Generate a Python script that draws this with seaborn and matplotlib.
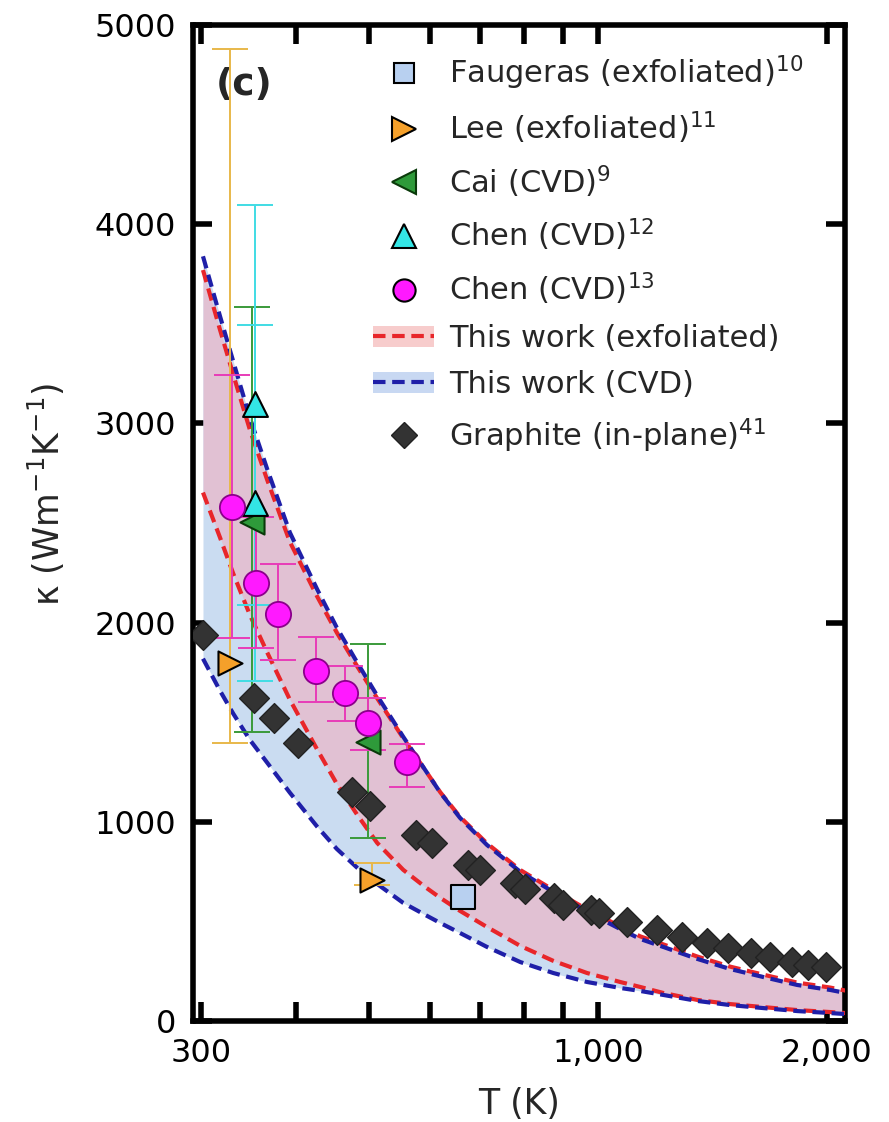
import matplotlib
matplotlib.use('Agg')
import matplotlib.pyplot as plt
from matplotlib.lines import Line2D
from matplotlib.patches import Patch
from matplotlib.ticker import FixedLocator, NullFormatter, FuncFormatter
import seaborn as sns

sns.set_style('white')
plt.rcParams['font.family'] = ['DejaVu Sans']
plt.rcParams['mathtext.fontset'] = 'dejavusans'

# courbes "This work" (bornes haute / basse)
t_courbe = [302, 318, 331, 348, 367, 393, 427, 453, 482, 512, 554, 592, 620, 658,
            714, 790, 873, 967, 1069, 1136, 1218, 1350, 1492, 1649, 1828, 2020, 2115]
exf_haut = [3770, 3470, 3245, 2970, 2715, 2405, 2130, 1950, 1780, 1620, 1420, 1260, 1148, 1025,
            892, 758, 658, 560, 475, 425, 385, 324, 273, 233, 193, 168, 153]
exf_bas = [2653, 2427, 2246, 2040, 1849, 1613, 1362, 1191, 1035, 894, 759, 673, 618, 553,
           472, 377, 302, 241, 196, 171, 141, 106, 85, 70, 55, 45, 40]
cvd_haut = [3839, 3538, 3311, 3030, 2769, 2452, 2166, 1975, 1799, 1633, 1427, 1261, 1146, 1020,
            884, 749, 648, 548, 462, 412, 372, 312, 261, 221, 181, 156, 141]
cvd_bas = [1819, 1658, 1543, 1412, 1296, 1146, 975, 864, 769, 688, 593, 533, 492, 442,
           372, 296, 241, 196, 166, 151, 131, 101, 80, 65, 50, 40, 35]

# Faugeras (exfolie)
t_faug = [664]
k_faug = [623]

# Lee (exfolie)
t_lee = [328, 504]
k_lee = [1799, 709]
lee_bas = [1397, 683]
lee_haut = [4879, 794]

# Cai (CVD)
t_cai = [350, 498]
k_cai = [2507, 1402]
cai_bas = [1452, 920]
cai_haut = [3583, 1894]

# Chen (CVD) 12
t_chen12 = [354, 354]
k_chen12 = [3095, 2603]
chen12_bas = [2090, 1708]
chen12_haut = [4095, 3492]

# Chen (CVD) 13
t_chen13 = [330, 355, 379, 425, 465, 498, 561]
k_chen13 = [2578, 2201, 2045, 1759, 1648, 1497, 1301]
chen13_bas = [1925, 1874, 1814, 1603, 1508, 1362, 1176]
chen13_haut = [3241, 2528, 2296, 1930, 1784, 1623, 1392]

# graphite (dans le plan)
t_graph = [302, 353, 375, 403, 475, 501, 576, 605, 674, 700, 778, 801, 875, 900, 979, 1003,
           1092, 1196, 1290, 1391, 1483, 1589, 1683, 1799, 1889, 1996]
k_graph = [1940, 1623, 1522, 1397, 1151, 1080, 935, 894, 784, 759, 693, 663, 618, 583, 558, 543,
           497, 457, 422, 392, 367, 342, 322, 296, 281, 271]

ROSE = '#e1c1d3'
BLEU_CLAIR = '#cadcf1'
ROUGE = '#e8262a'
BLEU = '#1f1fa8'
tirets = (0, (3, 1.6))

fig = plt.figure(figsize=(8.89, 11.22), dpi=100)
ax = fig.add_axes([0.2171, 0.0900, 0.7334, 0.8877])
ax.set_xscale('log')

ax.fill_between(t_courbe, cvd_bas, cvd_haut, color=BLEU_CLAIR, lw=0, zorder=1)
ax.fill_between(t_courbe, exf_bas, exf_haut, color=ROSE, lw=0, zorder=1.5)

for y, c in [(exf_haut, ROUGE), (exf_bas, ROUGE), (cvd_haut, BLEU), (cvd_bas, BLEU)]:
    sns.lineplot(x=t_courbe, y=y, ax=ax, color=c, lw=3, linestyle=tirets,
                 estimator=None, sort=False, zorder=3)

def barres(t, k, bas, haut, couleur):
    err = [[a - b for a, b in zip(k, bas)], [h - a for a, h in zip(k, haut)]]
    ax.errorbar(t, k, yerr=err, fmt='none', ecolor=couleur, elinewidth=1.4,
                capsize=13, capthick=1.4, zorder=4)

barres(t_lee, k_lee, lee_bas, lee_haut, '#e8b84a')
barres(t_cai, k_cai, cai_bas, cai_haut, '#3a9a3a')
barres(t_chen12, k_chen12, chen12_bas, chen12_haut, '#40dce4')
barres(t_chen13, k_chen13, chen13_bas, chen13_haut, '#e83cb8')

sns.scatterplot(x=t_graph, y=k_graph, ax=ax, marker='D', s=230, color='#333333',
                edgecolor='#222222', linewidth=1, zorder=6)
sns.scatterplot(x=t_faug, y=k_faug, ax=ax, marker='s', s=300, color='#b8d0f0',
                edgecolor='black', linewidth=1.5, zorder=6)
sns.scatterplot(x=t_lee, y=k_lee, ax=ax, marker='>', s=300, color='#f5a02a',
                edgecolor='black', linewidth=1.5, zorder=6)
sns.scatterplot(x=t_cai, y=k_cai, ax=ax, marker='<', s=300, color='#2e9a3a',
                edgecolor='#0a3a0a', linewidth=1.5, zorder=6)
sns.scatterplot(x=t_chen12, y=k_chen12, ax=ax, marker='^', s=320, color='#33e5e5',
                edgecolor='black', linewidth=1.5, zorder=6)
sns.scatterplot(x=t_chen13, y=k_chen13, ax=ax, marker='o', s=330, color='#ff19ff',
                edgecolor='#8a008a', linewidth=1.3, zorder=6)

ax.set_xlim(293, 2113)
ax.set_ylim(0, 5000)
ax.xaxis.set_major_locator(FixedLocator([300, 1000, 2000]))
ax.xaxis.set_minor_locator(FixedLocator([400, 500, 600, 700, 800, 900]))
ax.xaxis.set_major_formatter(FuncFormatter(lambda v, p: f'{v:,.0f}'))
ax.xaxis.set_minor_formatter(NullFormatter())
ax.set_yticks([0, 1000, 2000, 3000, 4000, 5000])
ax.tick_params(which='both', direction='in', length=14, width=4, top=True, right=True,
               bottom=True, left=True, colors='black', labelsize=23, pad=12)
for s in ax.spines.values():
    s.set_linewidth(4)
    s.set_color('black')

ax.set_xlabel('T (K)', fontsize=25, labelpad=13)
ax.set_ylabel(r'κ (Wm$^{-1}$K$^{-1}$)', fontsize=25)
ax.yaxis.set_label_coords(-0.193, 0.529)
ax.text(0.035, 0.94, '(c)', transform=ax.transAxes, fontsize=27, fontweight='bold', va='center')

poignees = [
    Line2D([], [], ls='none', marker='s', ms=15, mfc='#b8d0f0', mec='black', mew=1.5),
    Line2D([], [], ls='none', marker='>', ms=17, mfc='#f5a02a', mec='black', mew=1.5),
    Line2D([], [], ls='none', marker='<', ms=17, mfc='#2e9a3a', mec='#0a3a0a', mew=1.5),
    Line2D([], [], ls='none', marker='^', ms=17, mfc='#33e5e5', mec='black', mew=1.5),
    Line2D([], [], ls='none', marker='o', ms=16, mfc='#ff19ff', mec='black', mew=1.5),
    (Patch(facecolor='#f7cccc', edgecolor='none'), Line2D([], [], color=ROUGE, lw=3, ls=tirets)),
    (Patch(facecolor='#c8d8f2', edgecolor='none'), Line2D([], [], color=BLEU, lw=3, ls=tirets)),
    Line2D([], [], ls='none', marker='D', ms=13, mfc='#333333', mec='#222222'),
]
etiquettes = [
    r'Faugeras (exfoliated)$^{10}$',
    r'Lee (exfoliated)$^{11}$',
    r'Cai (CVD)$^{9}$',
    r'Chen (CVD)$^{12}$',
    r'Chen (CVD)$^{13}$',
    'This work (exfoliated)',
    'This work (CVD)',
    r'Graphite (in-plane)$^{41}$',
]
ax.legend(poignees, etiquettes, loc='upper left', bbox_to_anchor=(0.276, 0.971),
          frameon=False, fontsize=22, borderpad=0, borderaxespad=0, handlelength=2.0,
          handletextpad=0.5, labelspacing=0.56)

fig.savefig('out.png', dpi=100)
